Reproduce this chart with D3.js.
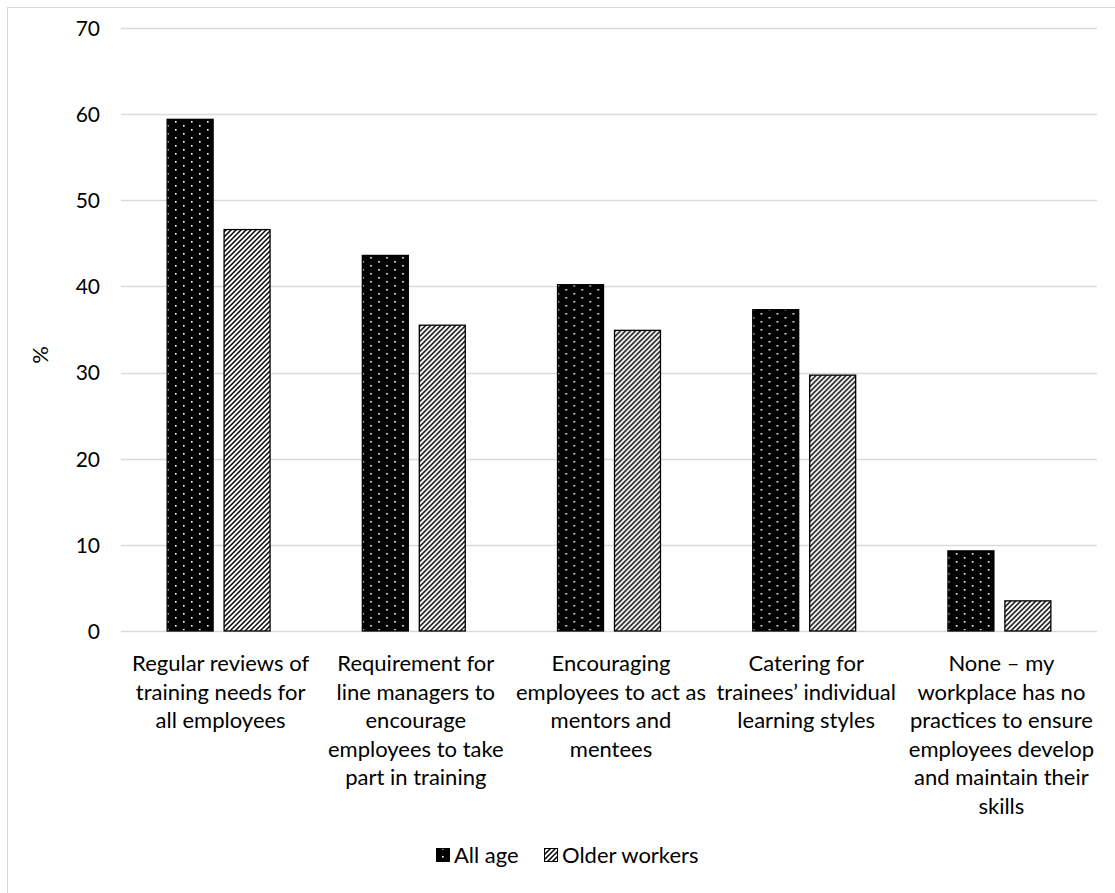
<!DOCTYPE html>
<html>
<head>
<meta charset="utf-8">
<script src="https://cdn.jsdelivr.net/npm/d3@7"></script>
<style>
  html, body { margin: 0; padding: 0; background: #fff; }
  svg { display: block; }
  text { font-family: Lato, "Open Sans", sans-serif; fill: #000; }
</style>
</head>
<body>
<svg id="chart" width="1115" height="893"></svg>
<script>
// Workplace practices for skills development, % of respondents
const categories = [
  "Regular reviews of\ntraining needs for\nall employees",
  "Requirement for\nline managers to\nencourage\nemployees to take\npart in training",
  "Encouraging\nemployees to act as\nmentors and\nmentees",
  "Catering for\ntrainees’ individual\nlearning styles",
  "None – my\nworkplace has no\npractices to ensure\nemployees develop\nand maintain their\nskills"
];
const seriesNames = ["All age", "Older workers"];
const allAge = [59.4, 43.6, 40.2, 37.3, 9.3];
const olderWorkers = [46.6, 35.5, 34.9, 29.7, 3.5];
const yTicks = [0, 10, 20, 30, 40, 50, 60, 70];

const FONT = 22;
const TICK_FONT = 21;
const svg = d3.select("#chart");
const plot = { left: 121, right: 1097, top: 28, bottom: 631 };

// Fill patterns: white dots on black, and diagonal hatching
const defs = svg.append("defs");
const dots = defs.append("pattern")
  .attr("id", "dots").attr("patternUnits", "userSpaceOnUse")
  .attr("width", 16).attr("height", 8).attr("x", 6).attr("y", 1);
dots.append("rect").attr("width", 16).attr("height", 8).attr("fill", "#000");
dots.append("rect").attr("x", 0).attr("y", 0).attr("width", 1.6).attr("height", 1.6).attr("fill", "#fff");
dots.append("rect").attr("x", 8).attr("y", 4).attr("width", 1.6).attr("height", 1.6).attr("fill", "#fff");

const hatch = defs.append("pattern")
  .attr("id", "hatch").attr("patternUnits", "userSpaceOnUse")
  .attr("width", 5).attr("height", 5);
hatch.append("rect").attr("width", 5).attr("height", 5).attr("fill", "#fff");
hatch.append("path")
  .attr("d", "M0,5 L5,0 M-1,1 L1,-1 M4,6 L6,4")
  .attr("stroke", "#000").attr("stroke-width", 1.5);

const fills = ["url(#dots)", "url(#hatch)"];

// Chart area border
svg.append("rect")
  .attr("x", 7.5).attr("y", 7.5).attr("width", 1300).attr("height", 1200)
  .attr("fill", "none").attr("stroke", "#d9d9d9").attr("stroke-width", 1);

const y = d3.scaleLinear().domain([0, 70]).range([plot.bottom, plot.top]);
const x0 = d3.scaleBand().domain(d3.range(categories.length)).range([plot.left, plot.right]);
const x1 = d3.scaleBand().domain(seriesNames)
  .range([0, x0.bandwidth()]).paddingInner(0.193).paddingOuter(0.81);

// Gridlines
svg.append("g").selectAll("line").data(yTicks).join("line")
  .attr("x1", plot.left).attr("x2", plot.right)
  .attr("y1", d => Math.round(y(d)) + 0.5).attr("y2", d => Math.round(y(d)) + 0.5)
  .attr("stroke", "#d9d9d9").attr("stroke-width", 1.3);

// Y axis labels
const yAxis = d3.axisLeft(y).tickValues(yTicks).tickSize(0).tickPadding(0);
const yg = svg.append("g").attr("transform", `translate(${plot.left - 21},0)`).call(yAxis);
yg.select(".domain").remove();
yg.attr("font-size", TICK_FONT).attr("font-family", null);
yg.selectAll("text").attr("fill", "#000").attr("dy", "0.35em");

svg.append("text")
  .attr("transform", "translate(40,355) rotate(-90)")
  .attr("text-anchor", "middle").attr("font-size", FONT).attr("dy", "0.35em").text("%");

// Bars
const rows = categories.map((c, i) => ({ i, values: [allAge[i], olderWorkers[i]] }));
const groups = svg.append("g").selectAll("g").data(rows).join("g")
  .attr("transform", d => `translate(${x0(d.i)},0)`);
groups.selectAll("rect")
  .data(d => d.values.map((v, k) => ({ name: seriesNames[k], v, k })))
  .join("rect")
  .attr("x", d => x1(d.name))
  .attr("y", d => y(d.v))
  .attr("width", x1.bandwidth())
  .attr("height", d => y(0) - y(d.v))
  .attr("fill", d => fills[d.k])
  .attr("stroke", "#000").attr("stroke-width", 1.3);

// Category labels
const lineH = 28.6;
svg.append("g").selectAll("text").data(categories).join("text")
  .attr("text-anchor", "middle").attr("font-size", FONT)
  .attr("transform", (d, i) => `translate(${x0(i) + x0.bandwidth() / 2 + 2},671)`)
  .each(function (d) {
    d3.select(this).selectAll("tspan").data(d.split("\n")).join("tspan")
      .attr("x", 0).attr("y", (t, j) => j * lineH).text(t => t);
  });

// Legend
const legend = svg.append("g").attr("transform", "translate(436,855)");
const legendX = [0, 108];
seriesNames.forEach((name, k) => {
  const g = legend.append("g").attr("transform", `translate(${legendX[k]},0)`);
  g.append("rect").attr("x", 0.5).attr("y", -6.5).attr("width", 13).attr("height", 13)
    .attr("fill", fills[k]).attr("stroke", "#000").attr("stroke-width", 1);
  g.append("text").attr("x", 18).attr("y", 0).attr("dy", "0.35em")
    .attr("font-size", FONT).text(name);
});
</script>
</body>
</html>
